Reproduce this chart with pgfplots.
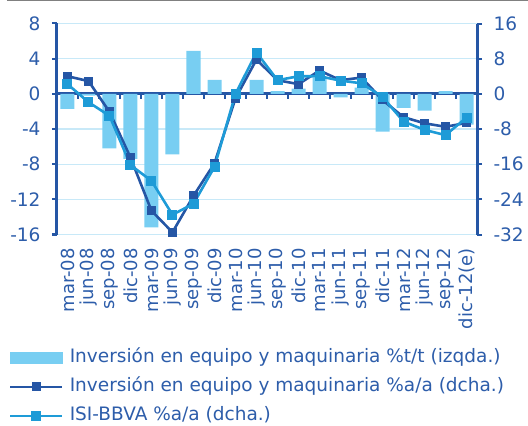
\documentclass[border=0pt]{standalone}
\usepackage{pgfplots}
\pgfplotsset{compat=1.18}
\usepackage{fontspec}
\setmainfont{DejaVu Sans}
\definecolor{barcol}{HTML}{78CEF2}
\definecolor{darkl}{HTML}{2556A5}
\definecolor{lightl}{HTML}{1E9BD7}
\definecolor{gridc}{HTML}{C8E9F8}
\definecolor{txtc}{HTML}{2D5DAA}
\definecolor{topg}{HTML}{808080}
\pgfplotsset{
  legline/.style={legend image code/.code={\draw[mark repeat=2,mark phase=2,##1] plot coordinates {(0bp,0bp) (26bp,0bp) (52bp,0bp)}; \path (58bp,0bp);}},
  legbar/.style={legend image code/.code={\fill[barcol] (0bp,-5.5bp) rectangle (52bp,5.5bp); \path (58bp,0bp);}},
  common/.style={
    scale only axis, width=420bp, height=211bp,
    xmin=-0.5, xmax=19.5,
    axis line style={darkl, line width=3bp},
    tick style={darkl, line width=2bp},
    major tick length=5bp,
    tick align=outside,
    ticklabel style={font=\fontsize{18.5bp}{20bp}\selectfont, text=txtc},
  }
}
\begin{document}
\begin{tikzpicture}
\useasboundingbox (-57bp,-191.5bp) rectangle (471bp,234.5bp);
\begin{axis}[common,
  ymin=-16, ymax=8,
  axis x line*=middle, axis y line*=left,
  xtick={0.5,1.5,...,18.5}, xticklabels={},
  x tick style={darkl, line width=2.5bp},
  ytick={-16,-12,-8,-4,0,4,8},
  yticklabels={-16,-12,-8,-4,0,4,8},
  ymajorgrids, grid style={gridc, line width=1.3bp},
  yticklabel style={anchor=east, xshift=-8bp},
]
\addplot[ybar, bar width=14bp, fill=barcol, draw=none] coordinates {
(0,-1.7) (1,-0.2) (2,-6.2) (3,-7.4) (4,-15.2) (5,-6.9) (6,4.9) (7,1.6) (8,0.0) (9,1.6)
(10,0.3) (11,0.6) (12,1.8) (13,-0.4) (14,0.7) (15,-4.3) (16,-1.6) (17,-1.9) (18,0.3) (19,-3.5)};
\end{axis}
\begin{axis}[common,
  ymin=-32, ymax=16,
  axis x line*=bottom, axis y line*=right,
  x axis line style={draw=none},
  xtick={0,...,19},
  x tick style={draw=none},
  xticklabels={mar-08,jun-08,sep-08,dic-08,mar-09,jun-09,sep-09,dic-09,mar-10,jun-10,sep-10,dic-10,mar-11,jun-11,sep-11,dic-11,mar-12,jun-12,sep-12,dic-12(e)},
  xticklabel style={rotate=90, anchor=east, inner sep=0pt, font=\fontsize{18bp}{20bp}\selectfont},
  xticklabel shift=8.5bp,
  ytick={-32,-24,-16,-8,0,8,16},
  yticklabels={-32,-24,-16,-8,0,8,16},
  yticklabel style={anchor=west, xshift=8bp},
  legend style={at={(axis description cs:-0.1143,-0.545)}, anchor=north west,
    draw=none, fill=none, inner sep=0pt, row sep=12.5bp, column sep=0bp,
    font=\fontsize{18.5bp}{20bp}\selectfont, text=txtc,
    nodes={inner sep=0pt, text height=13bp, text depth=3.5bp}},
  legend cell align=left,
]
\addlegendimage{legbar}
\addlegendentry{Inversión en equipo y maquinaria \%t/t (izqda.)}
\addplot[darkl, line width=2.6bp, mark=square*, mark size=4bp, mark options={fill=darkl, draw=darkl, line width=0pt}, legline] coordinates {
(0,4.0) (1,2.9) (2,-4.1) (3,-14.5) (4,-26.6) (5,-31.5) (6,-23.2) (7,-15.8) (8,-1.0) (9,7.8)
(10,3.1) (11,2.2) (12,5.3) (13,3.1) (14,3.7) (15,-1.4) (16,-5.3) (17,-6.7) (18,-7.5) (19,-6.6)};
\addlegendentry{Inversión en equipo y maquinaria \%a/a (dcha.)}
\addplot[lightl, line width=2.6bp, mark=square*, mark size=4.5bp, mark options={fill=lightl, draw=lightl, line width=0pt}, legline] coordinates {
(0,2.2) (1,-1.9) (2,-5.0) (3,-16.2) (4,-19.8) (5,-27.5) (6,-25.0) (7,-16.6) (8,0.0) (9,9.4)
(10,3.1) (11,4.0) (12,4.0) (13,3.0) (14,2.4) (15,-0.7) (16,-6.3) (17,-8.2) (18,-9.4) (19,-5.4)};
\addlegendentry{ISI-BBVA \%a/a (dcha.)}
\end{axis}
\draw[topg, line width=1.5bp] (-50bp,233.8bp) -- (471bp,233.8bp);
\end{tikzpicture}
\end{document}
